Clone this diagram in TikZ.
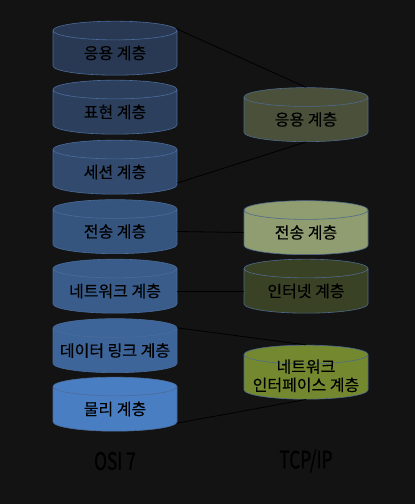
\documentclass[tikz,border=0pt]{standalone}
\usepackage{fontspec}
\usetikzlibrary{shapes.geometric}
\newfontfamily\korfont[FakeBold=0.4]{Noto Sans CJK KR}
\newfontfamily\capfont[FakeStretch=0.72,FakeBold=0.5]{Noto Sans CJK KR}
\newcommand{\laytxt}[1]{\makebox[72pt][c]{#1}}
\definecolor{bgcol}{HTML}{131313}
\definecolor{osiedge}{HTML}{4A6C9C}
\definecolor{tcpedge}{HTML}{4F6A8C}
\definecolor{osia}{HTML}{293953}
\definecolor{osib}{HTML}{2C405E}
\definecolor{osic}{HTML}{314A6E}
\definecolor{osid}{HTML}{35547E}
\definecolor{osie}{HTML}{395C8A}
\definecolor{osif}{HTML}{3D6599}
\definecolor{osig}{HTML}{4A7EC2}
\definecolor{tcpa}{HTML}{4A5039}
\definecolor{tcpb}{HTML}{8F9D70}
\definecolor{tcpc}{HTML}{3A4225}
\definecolor{tcpd}{HTML}{74892F}
\tikzset{cyl/.style={cylinder, shape border rotate=90, aspect=0.26,
    minimum width=124pt, minimum height=54pt, inner sep=0pt,
    fill=#1, line width=0.6pt, text=black,
    font=\korfont\fontsize{16}{18}\selectfont},
  osi/.style={cyl=#1, draw=osiedge},
  tcp/.style={cyl=#1, draw=tcpedge},
  link/.style={black, line width=0.8pt},
  caption/.style={text=black, font=\capfont\fontsize{24}{26}\selectfont}
}

\begin{document}
\begin{tikzpicture}[x=1pt,y=-1pt]
    \fill[bgcol] (0,0) rectangle (415,504);
    \useasboundingbox (0,0) rectangle (415,504);

    % OSI 7 layers
    \node[osi=osia] (lapp) at (115,53) {\laytxt{응용 계층}};
    \node[osi=osib] (lpre) at (115,112) {\laytxt{표현 계층}};
    \node[osi=osic] (lses) at (115,172) {\laytxt{세션 계층}};
    \node[osi=osid] (ltra) at (115,231.5) {\laytxt{전송 계층}};
    \node[osi=osie] (lnet) at (115,291) {\laytxt{네트워크 계층}};
    \node[osi=osif] (ldat) at (115,350.5) {\laytxt{데이터 링크 계층}};
    \node[osi=osig] (lphy) at (115,409) {\laytxt{물리 계층}};

    % TCP/IP layers
    \node[tcp=tcpa] (tapp) at (306,119.5) {\laytxt{응용 계층}};
    \node[tcp=tcpb] (ttra) at (306,232.5) {\laytxt{전송 계층}};
    \node[tcp=tcpc] (tint) at (306,291) {\laytxt{인터넷 계층}};
    \node[tcp=tcpd] (tnif) at (306,377)
        {\laytxt{\smash{\raisebox{-5pt}{\def\arraystretch{0.95}\begin{tabular}{@{}c@{}}네트워크\\인터페이스 계층\end{tabular}}}}};

    % Links
    \draw[link] (lapp.22) -- (tapp.90);
    \draw[link] (tapp.270) -- (lses.-10);
    \draw[link] (ltra.0) -- (ttra.180);
    \draw[link] (lnet.0) -- (tint.180);
    \draw[link] (ldat.20) -- (tnif.90);
    \draw[link] (lphy.-13) -- (tnif.270);

    % Labels
    \node[caption] (osilbl) at (115,461) {OSI 7};
    \node[caption] (tcplbl) at (306,461) {TCP/IP};
\end{tikzpicture}
\end{document}
